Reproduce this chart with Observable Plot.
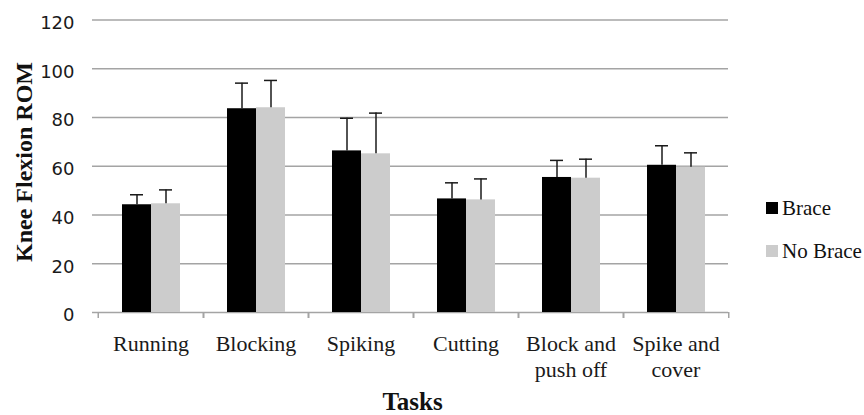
<!DOCTYPE html>
<html><head><meta charset="utf-8">
<script src="https://cdn.jsdelivr.net/npm/d3@7"></script>
<script src="https://cdn.jsdelivr.net/npm/@observablehq/plot@0.6"></script>
<style>
body{margin:0;background:#fff}
#wrap{position:relative;width:864px;height:415px;overflow:hidden}
#wrap svg{position:absolute;left:0;top:0}
.title{position:absolute;font-family:"Liberation Serif",serif;font-weight:bold;color:#111;line-height:1;white-space:nowrap;text-align:center}
#legend{position:absolute;left:766px;top:197px;font-family:"Liberation Serif",serif;font-size:21px;color:#111}
.item{display:flex;align-items:center;height:22px;margin-bottom:21px}
.sw{width:12px;height:12px;margin-right:4px}
</style></head><body><div id="wrap"></div>
<script>
const tasks = ["Running","Blocking","Spiking","Cutting","Block and push off","Spike and cover"];
const tickLabels = ["Running","Blocking","Spiking","Cutting","Block and\npush off","Spike and\ncover"];
const series = ["Brace","No Brace"];
const colors = ["#000000","#cccccc"];
const brace = [44.2, 83.6, 66.3, 46.6, 55.4, 60.4];
const braceSD = [4.1, 10.5, 13.4, 6.6, 7.0, 8.0];
const noBrace = [44.6, 84.0, 65.1, 46.2, 55.1, 59.6];
const noBraceSD = [5.7, 11.2, 16.7, 8.6, 7.8, 5.9];
const yTicks = [0, 20, 40, 60, 80, 100, 120];
const yTitle = "Knee Flexion ROM";
const xTitle = "Tasks";

const data = [];
tasks.forEach((t, i) => {
  data.push({task: t, series: series[0], value: brace[i], sd: braceSD[i]});
  data.push({task: t, series: series[1], value: noBrace[i], sd: noBraceSD[i]});
});

const W = 864, H = 415, mL = 96, mR = 135, mT = 19.5, mB = 103;
const step = (W - mL - mR) / tasks.length;
const gray = "#a4a4a4";
const ink = "#1a1a1a";

const chart = Plot.plot({
  width: W, height: H,
  marginLeft: mL, marginRight: mR, marginTop: mT, marginBottom: mB,
  fx: {domain: tasks, padding: 0, label: null},
  x: {domain: series, paddingInner: 0, paddingOuter: 0.76, axis: null},
  y: {domain: [0, 120], label: null},
  color: {domain: series, range: colors},
  style: {background: "#fff", overflow: "visible"},
  marks: [
    Plot.gridY(yTicks, {stroke: gray, strokeOpacity: 1, strokeWidth: 1.5}),
    Plot.axisY(yTicks, {tickSize: 6, stroke: gray, strokeWidth: 1.5, fill: "none", label: null}),
    Plot.axisY(yTicks, {tickSize: 6, tickPadding: 18, stroke: "none", fontSize: 18, fontFamily: "DejaVu Sans", fill: ink, dy: 3, label: null}),
    Plot.ruleX([tasks[0]], {fx: d => d, y1: 0, y2: 120, dx: -step / 2, stroke: gray, strokeWidth: 1.5}),
    Plot.axisFx({anchor: "bottom", tickSize: 6, dx: -step / 2, stroke: gray, strokeWidth: 1.5, fill: "none", label: null}),
    Plot.axisFx([tasks[tasks.length - 1]], {anchor: "bottom", tickSize: 6, dx: step / 2, stroke: gray, strokeWidth: 1.5, fill: "none", label: null}),
    Plot.barY(data, {fx: "task", x: "series", y: "value", fill: "series"}),
    Plot.ruleX(data, {fx: "task", x: "series", y1: "value", y2: d => d.value + d.sd, stroke: ink, strokeWidth: 1.5}),
    Plot.tickY(data, {fx: "task", x: "series", y: d => d.value + d.sd, insetLeft: 8, insetRight: 8, stroke: ink, strokeWidth: 1.5}),
    Plot.axisFx({anchor: "bottom", tickSize: 0, tickPadding: 20, fontSize: 22, fontFamily: "Liberation Serif", lineHeight: 1.18, fill: ink, tickFormat: d => tickLabels[tasks.indexOf(d)], label: null})
  ]
});

const wrap = document.getElementById("wrap");
wrap.appendChild(chart);

const yt = document.createElement("div");
yt.className = "title";
yt.textContent = yTitle;
Object.assign(yt.style, {fontSize: "24px", width: "300px", height: "24px", left: (24 - 150) + "px", top: (161.5 - 12) + "px", transform: "rotate(-90deg)"});
wrap.appendChild(yt);

const xt = document.createElement("div");
xt.className = "title";
xt.textContent = xTitle;
Object.assign(xt.style, {fontSize: "25px", width: "200px", left: (412.5 - 100) + "px", top: "389px"});
wrap.appendChild(xt);

const lg = document.createElement("div");
lg.id = "legend";
series.forEach((s, i) => {
  const it = document.createElement("div");
  it.className = "item";
  const sw = document.createElement("span");
  sw.className = "sw";
  sw.style.background = colors[i];
  const tx = document.createElement("span");
  tx.textContent = s;
  it.appendChild(sw); it.appendChild(tx);
  lg.appendChild(it);
});
wrap.appendChild(lg);
</script></body></html>
